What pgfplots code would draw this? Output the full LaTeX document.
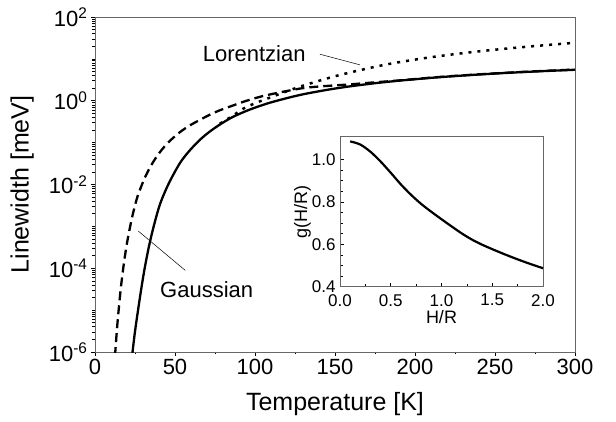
\documentclass[border=0pt]{standalone}
\usepackage{fontspec}
\setmainfont{Liberation Sans}
\usepackage{pgfplots}
\pgfplotsset{compat=1.18}
\begin{document}
\begin{tikzpicture}
\path[use as bounding box] (-95pt,-70pt) rectangle (521pt,352pt);
\begin{axis}[at={(0,0)}, anchor=south west, scale only axis,
  width=480pt, height=335pt,
  ymode=log, xmin=0, xmax=300, ymin=1e-6, ymax=1e2,
  xtick={0,50,...,300}, minor xtick={25,75,...,275},
  ytick={1e-6,1e-4,1e-2,1,1e2},
  yticklabels={10\textsuperscript{-6},10\textsuperscript{-4},10\textsuperscript{-2},10\textsuperscript{0},10\textsuperscript{2}},
  minor ytick={2e-6,3e-6,4e-6,5e-6,6e-6,7e-6,8e-6,9e-6,1e-5,2e-5,3e-5,4e-5,5e-5,6e-5,7e-5,8e-5,9e-5,
    2e-4,3e-4,4e-4,5e-4,6e-4,7e-4,8e-4,9e-4,1e-3,2e-3,3e-3,4e-3,5e-3,6e-3,7e-3,8e-3,9e-3,
    2e-2,3e-2,4e-2,5e-2,6e-2,7e-2,8e-2,9e-2,1e-1,2e-1,3e-1,4e-1,5e-1,6e-1,7e-1,8e-1,9e-1,
    2,3,4,5,6,7,8,9,10,20,30,40,50,60,70,80,90},
  tick align=outside, tick pos=left,
  axis line style={gray!80!black, line width=0.7pt},
  major tick length=4pt, minor tick length=2.5pt,
  tick style={black, line width=0.6pt},
  ticklabel style={font=\fontsize{22}{22}\selectfont},
  /pgf/number format/assume math mode=true,
  xlabel={Temperature [K]}, ylabel={Linewidth [meV]},
  label style={font=\fontsize{25}{25}\selectfont},
  xlabel style={yshift=-10pt},
  ylabel style={yshift=8pt},
]
% solid
\addplot[black, line width=2.3pt, smooth] coordinates {
(23,7.0e-7) (25,3.08e-6) (28,1.91e-5) (30.5,7.60e-5) (33.3,2.79e-4) (36.5,9.40e-4)
(40.6,3.36e-3) (46,1.04e-2) (53,3.21e-2) (59,6.37e-2) (65.6,0.117) (72,0.187)
(79,0.285) (86.5,0.417) (97,0.621) (110,0.914) (128,1.371) (145,1.820) (159,2.198)
(175,2.624) (190,3.013) (215,3.648) (243,4.305) (270,4.898) (300,5.495)};
% dashed
\addplot[black, line width=2.3pt, smooth, dash pattern=on 9pt off 5pt] coordinates {
(12.5,7.98e-7) (14,4.71e-6) (16,3.00e-5) (18,1.26e-4) (20,4.00e-4) (22.9,1.48e-3)
(26,4.37e-3) (28,7.33e-3) (31,1.41e-2) (34.4,2.57e-2) (38.5,4.61e-2) (42.7,7.48e-2)
(47,0.112) (53,0.177) (59,0.254) (65.6,0.350) (72,0.469) (78,0.592) (86.5,0.776)
(95,1.007) (107,1.352) (128,1.950) (140,2.188) (159,2.455) (175,2.754) (190,3.055)
(215,3.690) (243,4.345) (270,4.943) (300,5.559)};
% dotted
\addplot[black, line width=2.5pt, smooth, dash pattern=on 3pt off 6pt] coordinates {
(78,0.282) (86,0.437) (92.7,0.646) (100,0.871) (107,1.10) (118,1.585)
(130,2.291) (149,3.758) (165.6,5.37) (184,7.59) (210,10.96) (240,15.14) (270,19.5) (300,24.27)};
\node[font=\fontsize{22}{22}\selectfont] at (axis cs:99.5,13.7) {Lorentzian};
\draw[black, line width=0.5pt] (axis cs:140.6,12.9) -- (axis cs:165.6,7.2);
\node[font=\fontsize{22}{22}\selectfont] at (axis cs:69.8,3.16e-5) {Gaussian};
\draw[black, line width=0.5pt] (axis cs:56.4,8.9e-5) -- (axis cs:27.1,7.7e-4);
\end{axis}
\begin{axis}[at={(245pt,65.3pt)}, anchor=south west, scale only axis,
  width=203pt, height=150pt,
  xmin=0, xmax=2, ymin=0.4, ymax=1.107,
  xtick={0,0.5,1,1.5,2}, ytick={0.4,0.6,0.8,1.0},
  minor x tick num=1, minor y tick num=3,
  tick align=inside, tick pos=left,
  axis background/.style={fill=white},
  axis line style={gray!80!black, line width=0.7pt},
  major tick length=4pt, minor tick length=2.5pt,
  tick style={black, line width=0.6pt},
  ticklabel style={font=\fontsize{17}{17}\selectfont},
  xticklabel style={yshift=-4pt},
  yticklabel style={xshift=-1pt},
  /pgf/number format/assume math mode=true,
  /pgf/number format/fixed, /pgf/number format/fixed zerofill, /pgf/number format/precision=1,
  xlabel={H/R}, ylabel={g(H/R)},
  label style={font=\fontsize{18}{18}\selectfont},
  xlabel style={yshift=3pt},
  ylabel style={yshift=-6pt},
]
\addplot[black, line width=2.2pt, smooth] coordinates {
(0.1,1.085) (0.2,1.070) (0.3,1.036) (0.4,0.99) (0.5,0.937) (0.6,0.882) (0.7,0.833)
(0.8,0.79) (0.9,0.753) (1.0,0.718) (1.1,0.684) (1.2,0.651) (1.3,0.622) (1.4,0.598)
(1.5,0.577) (1.6,0.557) (1.7,0.538) (1.8,0.52) (1.9,0.503) (2.0,0.487)};
\end{axis}
\end{tikzpicture}
\end{document}
